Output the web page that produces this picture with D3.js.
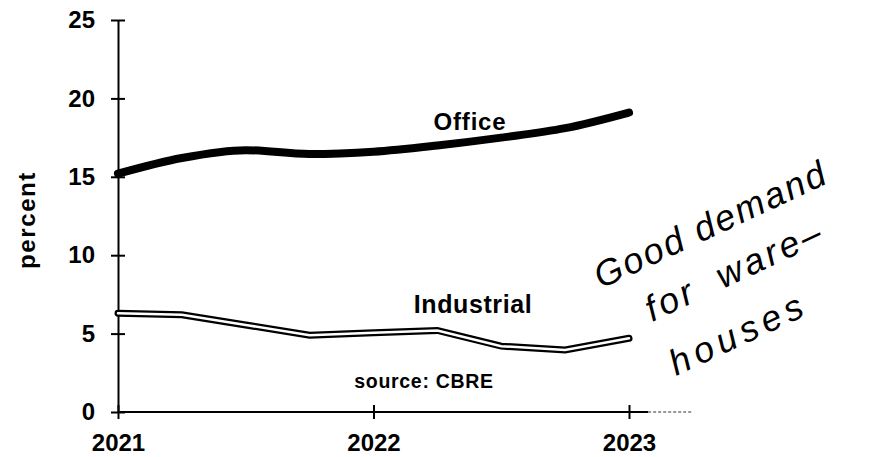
<!DOCTYPE html>
<html>
<head>
<meta charset="utf-8">
<script src="https://cdn.jsdelivr.net/npm/d3@7"></script>
<style>
  body { margin: 0; background: #fff; }
  text { font-family: Arial, "Liberation Sans", sans-serif; }
</style>
</head>
<body>
<div id="chart"></div>
<script>
// quarterly points, 2021 Q1 .. 2023 Q1
const quarters = [2021, 2021.25, 2021.5, 2021.75, 2022, 2022.25, 2022.5, 2022.75, 2023]
const office = [15.2, 16.2, 16.7, 16.45, 16.6, 17.0, 17.5, 18.1, 19.1]
const industrial = [6.3, 6.2, 5.55, 4.9, 5.05, 5.2, 4.2, 3.95, 4.7]
const yTicks = [0, 5, 10, 15, 20, 25]
const xTicks = [2021, 2022, 2023]
const note = ['Good demand', 'for ware\u2013', 'houses']

const width = 877
const height = 457
const svg = d3.select('#chart').append('svg')
    .attr('width', width)
    .attr('height', height)

const x = d3.scaleLinear().domain([2021, 2023]).range([118, 629])
const y = d3.scaleLinear().domain([0, 25]).range([412, 20])

// y axis, ticks cross the line
const yAxis = svg.append('g')
    .attr('transform', `translate(${x(2021)},0)`)
    .call(d3.axisLeft(y).tickValues(yTicks).tickSizeInner(7).tickSizeOuter(0).tickPadding(16))
yAxis.select('.domain').attr('stroke-width', 2)
yAxis.selectAll('.tick line').attr('x2', 7).attr('x1', -7).attr('stroke-width', 2)
yAxis.selectAll('.tick text')
    .attr('font-size', 24).attr('font-weight', 'bold')
    .attr('font-family', 'Arial, "Liberation Sans", sans-serif')

// x axis
const xAxis = svg.append('g')
    .attr('transform', `translate(0,${y(0)})`)
    .call(d3.axisBottom(x).tickValues(xTicks).tickFormat(d3.format('d')).tickSize(7).tickPadding(15))
xAxis.select('.domain').remove()
xAxis.selectAll('.tick line').attr('y1', -7).attr('y2', 7).attr('stroke-width', 2)
xAxis.selectAll('.tick text')
    .attr('font-size', 24).attr('font-weight', 'bold')
    .attr('font-family', 'Arial, "Liberation Sans", sans-serif')
xAxis.append('line')
    .attr('x1', x(2021)).attr('x2', x(2023.075))
    .attr('stroke', '#000').attr('stroke-width', 2)
xAxis.append('line')
    .attr('x1', x(2023.075)).attr('x2', x(2023.25))
    .attr('stroke', '#777').attr('stroke-width', 1.5)
    .attr('stroke-dasharray', '3,2')

// lines
const officeLine = d3.line()
    .x((d, i) => x(quarters[i]))
    .y(d => y(d))
    .curve(d3.curveMonotoneX)
const indLine = d3.line()
    .x((d, i) => x(quarters[i]))
    .y(d => y(d))

svg.append('path')
    .datum(office)
    .attr('d', officeLine)
    .attr('fill', 'none')
    .attr('stroke', '#000')
    .attr('stroke-width', 8)
    .attr('stroke-linecap', 'round')

svg.append('path')
    .datum(industrial)
    .attr('d', indLine)
    .attr('fill', 'none')
    .attr('stroke', '#000')
    .attr('stroke-width', 7)
    .attr('stroke-linecap', 'round')
svg.append('path')
    .datum(industrial)
    .attr('d', indLine)
    .attr('fill', 'none')
    .attr('stroke', '#fff')
    .attr('stroke-width', 2.5)
    .attr('stroke-linecap', 'round')

// labels
svg.append('text')
    .attr('x', 470).attr('y', 130)
    .attr('text-anchor', 'middle')
    .attr('font-size', 24).attr('font-weight', 'bold')
    .attr('letter-spacing', 0.8)
    .text('Office')

svg.append('text')
    .attr('x', 473).attr('y', 313)
    .attr('text-anchor', 'middle')
    .attr('font-size', 25).attr('font-weight', 'bold')
    .attr('letter-spacing', 0.6)
    .text('Industrial')

svg.append('text')
    .attr('x', 424).attr('y', 388)
    .attr('text-anchor', 'middle')
    .attr('font-size', 19.5).attr('font-weight', 'bold')
    .attr('letter-spacing', 0.7)
    .text('source: CBRE')

svg.append('text')
    .attr('transform', 'translate(35,220) rotate(-90)')
    .attr('text-anchor', 'middle')
    .attr('font-size', 24).attr('font-weight', 'bold')
    .attr('letter-spacing', 1.6)
    .text('percent')

// handwritten note
const hand = svg.append('g')
    .attr('font-family', '"DejaVu Sans", sans-serif')
    .attr('font-style', 'italic')
    .attr('font-weight', 200)
    .attr('font-size', 36)
const noteStart = [[601, 289], [652, 322], [676, 376]]
const noteSpacing = [2.3, 3.5, 5.5]
note.forEach((t, i) => {
    hand.append('text')
        .attr('transform', `translate(${noteStart[i][0]},${noteStart[i][1]}) rotate(-25)`)
        .attr('letter-spacing', noteSpacing[i])
        .attr('word-spacing', i === 1 ? 12 : 0)
        .text(t)
})
</script>
</body>
</html>
